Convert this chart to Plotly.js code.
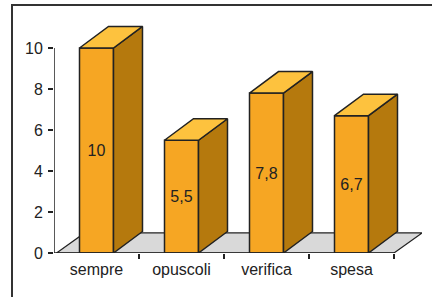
<!DOCTYPE html>
<html><head><meta charset="utf-8">
<script src="https://cdn.plot.ly/plotly-3.0.1.min.js"></script>
<style>
html,body{margin:0;padding:0;background:#fff;}
#wrap{position:relative;width:432px;height:297px;}
#chart{position:absolute;left:0;top:0;width:432px;height:297px;}
#frame{position:absolute;left:11px;top:4px;width:430px;height:291px;border-top:2px solid #333;border-left:2px solid #333;border-bottom:2px solid #ccc;pointer-events:none;}
</style></head>
<body><div id="wrap"><div id="chart"></div><div id="frame"></div></div>
<script>
const categories = ["sempre", "opuscoli", "verifica", "spesa"];
const values = [10, 5.5, 7.8, 6.7];
const valueLabels = ["10", "5,5", "7,8", "6,7"];
const yTicks = [0, 2, 4, 6, 8, 10];

const FONT = "Liberation Sans Narrow, Arial Narrow, Liberation Sans, sans-serif";
const W = 0.4, DX = 0.341, DY = 1.05, FDX = 0.33, FDY = 0.98;
const xs = categories.map((c, i) => i);
const traces = [{
  type: 'bar', x: xs, y: values, width: W,
  marker: {color: '#F6A623', line: {color: '#222', width: 1.5}},
  text: valueLabels, textposition: 'inside', insidetextanchor: 'middle',
  textfont: {family: FONT, size: 16, color: '#222'}, constraintext: 'none',
  hoverinfo: 'none', showlegend: false
}];
xs.forEach((x, i) => {
  const v = values[i], l = x - W / 2, r = x + W / 2;
  traces.push({type: 'scatter', mode: 'lines', fill: 'toself', fillcolor: '#B5790D',
    x: [r, r, r + DX, r + DX, r], y: [0, v, v + DY, DY, 0],
    line: {color: '#222', width: 1.5}, hoverinfo: 'none', showlegend: false});
  traces.push({type: 'scatter', mode: 'lines', fill: 'toself', fillcolor: '#FDC23E',
    x: [l, r, r + DX, l + DX, l], y: [v, v, v + DY, v + DY, v],
    line: {color: '#222', width: 1.5}, hoverinfo: 'none', showlegend: false});
});
const x0 = -0.5, x1 = categories.length - 0.5;
const layout = {
  width: 432, height: 297, margin: {l: 54, r: 10, t: 7, b: 44},
  paper_bgcolor: 'rgba(0,0,0,0)', plot_bgcolor: 'rgba(0,0,0,0)',
  separators: ',.', showlegend: false,
  font: {family: FONT, size: 16, color: '#222'},
  xaxis: {range: [x0, x0 + 368 / 85], tickvals: xs, ticktext: categories, ticks: '',
    ticklabelstandoff: 5,
    showgrid: false, zeroline: false, showline: false, fixedrange: true,
    minor: {tickvals: xs.map(x => x + 0.5), ticks: 'outside', ticklen: 5, tickcolor: '#222', tickwidth: 1.5, showgrid: false}},
  yaxis: {range: [0, 246 / 20.5], tickvals: yTicks, ticks: 'outside', ticklen: 5,
    ticklabelstandoff: 2,
    tickcolor: '#222', tickwidth: 1.5, showgrid: false, zeroline: false, showline: false, fixedrange: true},
  shapes: [
    {type: 'path', layer: 'below', xref: 'x', yref: 'y',
     path: `M${x0 + 0.03},0 L${x1},0 L${x1 + FDX},${FDY} L${x0 + 0.03 + FDX},${FDY} Z`,
     fillcolor: '#D9D9D9', line: {color: '#222', width: 1.2}},
    {type: 'line', xref: 'x', yref: 'y', x0: x0, x1: x0, y0: 0, y1: yTicks[yTicks.length - 1], line: {color: '#222', width: 1.5}},
    {type: 'line', xref: 'x', yref: 'y', x0: x0, x1: x1, y0: 0, y1: 0, line: {color: '#222', width: 1.5}}
  ]
};
Plotly.newPlot('chart', traces, layout, {displayModeBar: false, staticPlot: true});
</script></body></html>
